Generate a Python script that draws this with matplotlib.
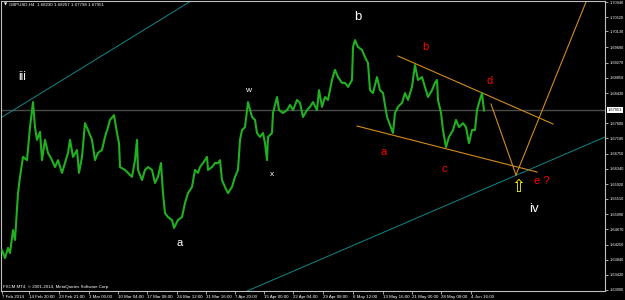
import numpy as np
import matplotlib
matplotlib.use("Agg")
import matplotlib.pyplot as plt

# GBPUSD H4 closes (x = bar position on the time axis)
bar_x = [2, 5, 8, 10, 13, 15, 18, 20, 23, 27, 30, 33, 35, 37, 40, 42, 45, 48, 52, 55,
         58, 62, 65, 68, 70, 73, 77, 79, 82, 85, 88, 92, 95, 98, 102, 105, 108, 110, 114, 117,
         119, 120, 125, 128, 132, 135, 137, 138, 142, 145, 148, 152, 155, 158, 161, 163, 165, 168, 172, 174,
         178, 182, 185, 188, 192, 195, 198, 200, 203, 207, 208, 212, 215, 218, 220, 222, 225, 228, 232, 235,
         238, 240, 242, 245, 248, 252, 255, 257, 260, 263, 265, 267, 268, 272, 273, 277, 279, 283, 287, 290,
         293, 297, 300, 303, 307, 310, 313, 317, 319, 322, 325, 328, 332, 335, 338, 342, 345, 348, 352, 353,
         355, 358, 362, 365, 368, 370, 373, 377, 380, 383, 387, 390, 393, 395, 398, 402, 405, 408, 412, 415,
         418, 422, 425, 428, 432, 435, 437, 438, 441, 443, 446, 449, 453, 456, 459, 463, 466, 469, 472, 475,
         477, 479, 482, 484]
close = [1.6410, 1.6388, 1.6416, 1.6402, 1.6465, 1.6438, 1.6567, 1.6612, 1.6667, 1.6658,
         1.6749, 1.6818, 1.6749, 1.6714, 1.6736, 1.6658, 1.6714, 1.6678, 1.6658, 1.6639,
         1.6658, 1.6623, 1.6650, 1.6678, 1.6714, 1.6667, 1.6686, 1.6623, 1.6667, 1.6760,
         1.6741, 1.6714, 1.6658, 1.6678, 1.6686, 1.6722, 1.6749, 1.6769, 1.6782, 1.6733,
         1.6705, 1.6639, 1.6631, 1.6623, 1.6612, 1.6658, 1.6714, 1.6631, 1.6603, 1.6631,
         1.6639, 1.6631, 1.6595, 1.6612, 1.6650, 1.6567, 1.6512, 1.6501, 1.6493, 1.6471,
         1.6493, 1.6501, 1.6540, 1.6567, 1.6584, 1.6631, 1.6623, 1.6639, 1.6650, 1.6667,
         1.6631, 1.6639, 1.6650, 1.6650, 1.6658, 1.6603, 1.6584, 1.6567, 1.6584, 1.6612,
         1.6631, 1.6714, 1.6741, 1.6749, 1.6818, 1.6777, 1.6769, 1.6733, 1.6722, 1.6733,
         1.6705, 1.6658, 1.6722, 1.6733, 1.6788, 1.6832, 1.6796, 1.6788, 1.6796, 1.6810,
         1.6796, 1.6824, 1.6816, 1.6777, 1.6796, 1.6805, 1.6818, 1.6796, 1.6851, 1.6805,
         1.6832, 1.6824, 1.6879, 1.6907, 1.6887, 1.6871, 1.6871, 1.6860, 1.6879, 1.6970,
         1.6989, 1.6970, 1.6962, 1.6942, 1.6926, 1.6851, 1.6843, 1.6887, 1.6851, 1.6843,
         1.6777, 1.6755, 1.6733, 1.6788, 1.6805, 1.6816, 1.6843, 1.6824, 1.6860, 1.6920,
         1.6879, 1.6887, 1.6860, 1.6832, 1.6851, 1.6871, 1.6879, 1.6824, 1.6788, 1.6741,
         1.6694, 1.6722, 1.6741, 1.6769, 1.6749, 1.6760, 1.6749, 1.6705, 1.6741, 1.6741,
         1.6796, 1.6816, 1.6843, 1.6795]

current_price = 1.67951
header = "GBPUSD,H4  1.68230 1.68257 1.67798 1.67951"
copyright_text = "FXCM MT4, \u00a9 2001-2014, MetaQuotes Software Corp."

price_ticks = [1.70940, 1.70520, 1.70130, 1.69690, 1.69270, 1.68850, 1.68430,
               1.67600, 1.67180, 1.66750, 1.66340, 1.65920, 1.65510, 1.65090,
               1.64670, 1.64250, 1.63840, 1.63420, 1.63000]
time_pos = [2, 29, 59, 89, 118, 147, 177, 206, 235, 264, 293, 323, 353, 383, 412, 441, 471]
time_labels = ["7 Feb 2014", "14 Feb 20:00", "23 Feb 21:00", "3 Mar 00:00", "10 Mar 04:00",
               "17 Mar 08:00", "24 Mar 12:00", "31 Mar 16:00", "7 Apr 20:00", "15 Apr 00:00",
               "22 Apr 04:00", "29 Apr 08:00", "6 May 12:00", "13 May 16:00", "21 May 00:00",
               "28 May 08:00", "4 Jun 16:00"]

# trendlines: (x0, p0, x1, p1)
teal_lines = [(1, 1.6775, 197, 1.7107), (247, 1.6297, 605, 1.67218)]
orange_lines = [(398, 1.69451, 553, 1.67577), (357, 1.67521, 537, 1.66253),
                (491, 1.68128, 516, 1.66171), (516, 1.66171, 586, 1.70940)]

# wave labels: (text, x, price, colour, size)
wave_labels = [("iii", 22, 1.68872, "white", 8.5), ("a", 180, 1.64296, "white", 8),
               ("w", 248, 1.68514, "white", 6), ("x", 272, 1.66171, "white", 6),
               ("b", 358, 1.70527, "white", 9.5), ("a", 384, 1.66805, "red", 8),
               ("b", 425, 1.69700, "red", 8), ("d", 490, 1.68762, "red", 8),
               ("c", 444, 1.66336, "red", 8), ("e ?", 542, 1.66005, "red", 8),
               ("iv", 534, 1.65233, "white", 9.5)]

GREEN = "#20b020"
ORANGE = "#d18b1f"
TEAL = "#138787"
FRAME = "#c0c0c0"

plt.rcParams['font.family'] = ['Liberation Sans', 'DejaVu Sans']

fig = plt.figure(figsize=(6.25, 3), dpi=100, facecolor="black")
ax = fig.add_axes([1 / 625, 9 / 300, 604 / 625, 290 / 300])
ax.set_facecolor("black")
ax.set_xlim(1, 605)
ax.set_ylim(1.62972, 1.70968)

ax.axhline(current_price, color="#4a4a4a", lw=1, zorder=1)

for x0, p0, x1, p1 in teal_lines:
    ax.plot([x0, x1], [p0, p1], color=TEAL, lw=0.7, zorder=2)
for x0, p0, x1, p1 in orange_lines:
    ax.plot([x0, x1], [p0, p1], color=ORANGE, lw=0.8, zorder=2)

ax.plot(bar_x, close, color=GREEN, lw=1.5, zorder=3)

for txt, x, p, c, s in wave_labels:
    ax.text(x, p, txt, color=c, fontsize=s, ha="center", va="center", zorder=4)

ax.text(518, 1.6584, "\u21e7", color="yellow", fontsize=12, ha="center", va="center",
        family="DejaVu Sans", zorder=4)

for s in ax.spines.values():
    s.set_color(FRAME)
    s.set_linewidth(0.8)

ax.yaxis.tick_right()
ax.set_yticks(price_ticks, [f"{p:.5f}" for p in price_ticks])
ax.set_xticks(time_pos, time_labels, ha="left")
ax.tick_params(axis="y", length=2, width=0.6, color=FRAME, labelcolor="white",
               labelsize=2.8, pad=1.5)
ax.tick_params(axis="x", length=2, width=0.6, color=FRAME, labelcolor="white",
               labelsize=3.2, pad=1)

ax.text(607.5, current_price, f"{current_price:.5f}", color="black", fontsize=2.8,
        ha="left", va="center", clip_on=False,
        bbox=dict(boxstyle="square,pad=0.25", fc="white", ec="none"))

fig.text(4 / 625, 1 - 5 / 300, "\u25bc", color="white", fontsize=3, va="center",
         family="DejaVu Sans")
fig.text(9 / 625, 1 - 5 / 300, header, color="white", fontsize=3.2, va="center")
fig.text(3 / 625, 1 - 287 / 300, copyright_text, color="white", fontsize=3.2, va="center")

fig.savefig("out.png", dpi=100, facecolor="black")
